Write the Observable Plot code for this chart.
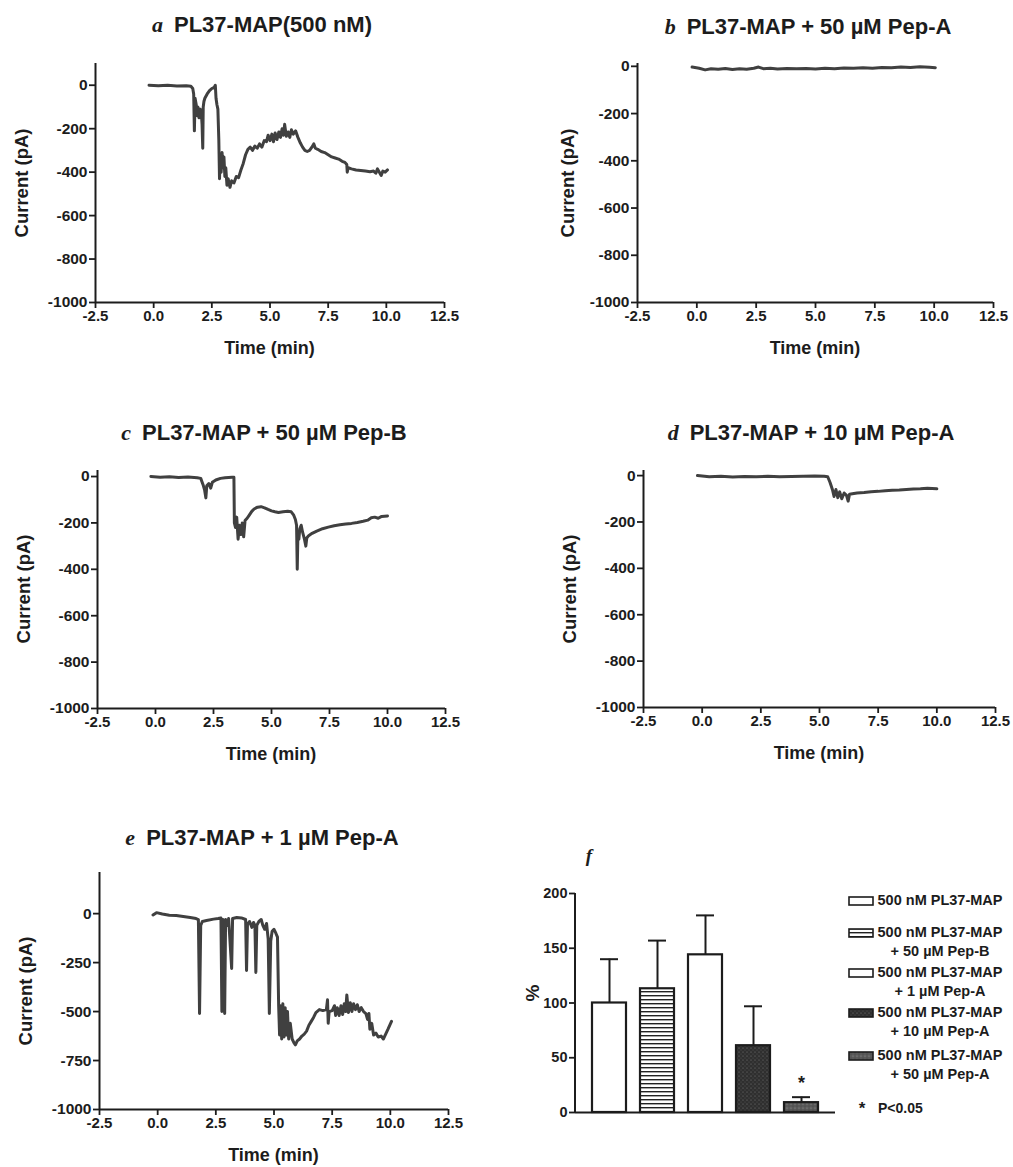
<!DOCTYPE html>
<html><head><meta charset="utf-8">
<script src="https://cdn.jsdelivr.net/npm/d3@7"></script>
<script src="https://cdn.jsdelivr.net/npm/@observablehq/plot@0.6"></script>
<style>
html,body{margin:0;padding:0;background:#fff;}
#root{position:relative;width:1013px;height:1167px;overflow:hidden;font-family:"Liberation Sans",Arial,Helvetica,sans-serif;color:#1c1c1c;}
#root > svg{position:absolute;overflow:visible;}
.t{position:absolute;white-space:nowrap;font-weight:bold;line-height:1;}
.c{transform:translate(-50%,-50%);}
.r{transform:translate(-50%,-50%) rotate(-90deg);}
.ltr{font-family:"Liberation Serif","Times New Roman",serif;font-style:italic;font-weight:bold;margin-right:11px;}
.leg{position:absolute;font-weight:bold;font-size:14.5px;line-height:19px;white-space:nowrap;}
.leg svg{position:absolute;left:0;top:5px;}
.leg .txt{position:absolute;left:26px;width:128px;text-align:center;}
</style></head><body><div id="root"></div>
<script>
// ---------------- data ----------------
const xTicks = [-2.5, 0, 2.5, 5, 7.5, 10, 12.5];
const yTicksStep200 = [-1000, -800, -600, -400, -200, 0];
const yTicksStep250 = [-1000, -750, -500, -250, 0];

// a: PL37-MAP (500 nM)  [time (min), current (pA)]
const traceA = [[-0.2,0],[0.2,-2],[0.6,0],[1.0,-3],[1.4,-2],[1.6,-5],[1.68,-15],[1.72,-40],[1.75,-210],[1.78,-60],[1.83,-90],[1.87,-140],[1.9,-100],[1.95,-150],[2.0,-110],[2.05,-130],[2.08,-180],[2.11,-290],[2.13,-100],[2.16,-75],[2.2,-60],[2.3,-40],[2.4,-25],[2.5,-15],[2.6,-10],[2.65,0],[2.68,-60],[2.72,-90],[2.76,-110],[2.8,-250],[2.83,-430],[2.86,-330],[2.9,-400],[2.94,-310],[2.98,-380],[3.02,-330],[3.06,-420],[3.1,-380],[3.15,-460],[3.2,-430],[3.28,-470],[3.35,-440],[3.45,-450],[3.55,-420],[3.65,-425],[3.75,-390],[3.85,-360],[3.95,-320],[4.05,-295],[4.15,-285],[4.25,-300],[4.35,-280],[4.45,-290],[4.55,-270],[4.65,-285],[4.75,-255],[4.85,-260],[4.92,-230],[5.0,-255],[5.08,-225],[5.15,-260],[5.22,-220],[5.3,-250],[5.38,-215],[5.45,-240],[5.52,-200],[5.58,-230],[5.63,-180],[5.7,-235],[5.78,-215],[5.85,-240],[5.92,-205],[6.0,-225],[6.1,-210],[6.2,-240],[6.3,-265],[6.4,-285],[6.5,-300],[6.6,-305],[6.7,-300],[6.8,-285],[6.88,-270],[6.95,-290],[7.05,-295],[7.2,-305],[7.35,-310],[7.5,-320],[7.65,-330],[7.8,-335],[7.95,-340],[8.1,-350],[8.22,-355],[8.3,-365],[8.32,-400],[8.36,-380],[8.5,-385],[8.7,-390],[8.9,-392],[9.1,-395],[9.3,-398],[9.45,-395],[9.55,-405],[9.62,-385],[9.7,-400],[9.78,-415],[9.85,-395],[9.95,-400],[10.05,-390]];

// b: PL37-MAP + 50 µM Pep-A
const traceB = [[-0.2,-3],[0.1,-8],[0.35,-15],[0.6,-10],[0.9,-12],[1.2,-9],[1.5,-13],[1.8,-10],[2.1,-12],[2.4,-8],[2.6,-3],[2.8,-10],[3.1,-8],[3.4,-11],[3.8,-9],[4.2,-10],[4.6,-9],[5.0,-11],[5.4,-8],[5.8,-10],[6.2,-7],[6.6,-8],[7.0,-6],[7.4,-8],[7.8,-5],[8.2,-6],[8.6,-3],[9.0,-5],[9.4,-2],[9.8,-4],[10.05,-6]];

// c: PL37-MAP + 50 µM Pep-B
const traceC = [[-0.2,0],[0.2,-3],[0.6,-1],[1.0,-4],[1.4,-2],[1.8,-5],[1.95,-8],[2.05,-35],[2.12,-60],[2.17,-92],[2.21,-40],[2.3,-30],[2.38,-50],[2.45,-25],[2.6,-15],[2.8,-8],[3.0,-5],[3.3,-3],[3.38,-3],[3.4,-200],[3.45,-220],[3.5,-175],[3.56,-270],[3.62,-210],[3.68,-250],[3.74,-200],[3.8,-260],[3.86,-190],[3.95,-180],[4.05,-165],[4.15,-150],[4.25,-140],[4.4,-132],[4.55,-130],[4.7,-135],[4.85,-142],[5.0,-148],[5.15,-152],[5.3,-155],[5.5,-152],[5.7,-150],[5.85,-152],[5.95,-165],[6.03,-185],[6.08,-210],[6.11,-400],[6.14,-240],[6.18,-270],[6.22,-225],[6.28,-210],[6.34,-240],[6.42,-270],[6.48,-300],[6.52,-265],[6.6,-255],[6.75,-245],[6.95,-235],[7.2,-225],[7.45,-218],[7.7,-212],[7.95,-208],[8.2,-205],[8.45,-202],[8.7,-198],[8.95,-193],[9.15,-188],[9.3,-178],[9.45,-175],[9.6,-180],[9.75,-172],[10.0,-170]];

// d: PL37-MAP + 10 µM Pep-A
const traceD = [[-0.2,0],[0.3,-5],[0.8,-3],[1.3,-6],[1.8,-4],[2.3,-5],[2.8,-3],[3.3,-5],[3.8,-4],[4.3,-3],[4.8,-2],[5.2,-3],[5.35,-5],[5.45,-30],[5.55,-60],[5.62,-90],[5.7,-60],[5.78,-95],[5.86,-70],[5.95,-100],[6.05,-75],[6.15,-85],[6.22,-110],[6.28,-80],[6.4,-78],[6.6,-75],[6.9,-73],[7.2,-70],[7.5,-68],[7.8,-65],[8.1,-63],[8.4,-62],[8.7,-60],[9.0,-58],[9.3,-57],[9.6,-55],[10.0,-57]];

// e: PL37-MAP + 1 µM Pep-A
const traceE = [[-0.2,-7],[-0.05,5],[0.2,-2],[0.5,-8],[0.8,-10],[1.1,-15],[1.4,-20],[1.65,-25],[1.75,-30],[1.8,-510],[1.85,-60],[1.92,-40],[2.1,-35],[2.4,-28],[2.6,-25],[2.72,-22],[2.76,-500],[2.8,-30],[2.88,-510],[2.92,-30],[3.0,-60],[3.05,-25],[3.18,-280],[3.22,-25],[3.4,-20],[3.6,-22],[3.78,-30],[3.82,-290],[3.86,-55],[3.95,-40],[4.05,-70],[4.12,-45],[4.18,-60],[4.22,-300],[4.26,-60],[4.35,-40],[4.45,-30],[4.52,-60],[4.6,-80],[4.68,-50],[4.75,-130],[4.8,-510],[4.86,-140],[4.92,-90],[5.0,-80],[5.08,-100],[5.15,-120],[5.2,-470],[5.24,-620],[5.28,-470],[5.33,-640],[5.38,-460],[5.43,-630],[5.48,-480],[5.53,-620],[5.58,-500],[5.63,-640],[5.7,-560],[5.78,-640],[5.86,-660],[5.92,-670],[6.0,-650],[6.1,-640],[6.2,-625],[6.3,-615],[6.4,-600],[6.5,-570],[6.6,-550],[6.7,-530],[6.8,-505],[6.95,-490],[7.1,-495],[7.25,-490],[7.3,-440],[7.33,-560],[7.37,-500],[7.5,-495],[7.6,-470],[7.65,-520],[7.72,-480],[7.8,-520],[7.88,-470],[7.95,-515],[8.02,-460],[8.08,-500],[8.13,-415],[8.2,-505],[8.28,-455],[8.35,-500],[8.42,-460],[8.5,-490],[8.58,-465],[8.66,-500],[8.75,-480],[8.85,-500],[8.95,-510],[9.02,-540],[9.08,-510],[9.12,-590],[9.2,-560],[9.28,-620],[9.38,-610],[9.48,-630],[9.6,-625],[9.7,-640],[9.8,-615],[9.9,-590],[10.05,-550]];

// f: summary bars (%)
const barCategories = ["500 nM PL37-MAP", "500 nM PL37-MAP + 50 µM Pep-B", "500 nM PL37-MAP + 1 µM Pep-A", "500 nM PL37-MAP + 10 µM Pep-A", "500 nM PL37-MAP + 50 µM Pep-A"];
const barMeans = [100, 113, 144, 61, 9];
const barErrors = [40, 44, 36, 36, 5];
const barSignificant = [false, false, false, false, true];
const barTicks = [0, 50, 100, 150, 200];
const legendLines = [["500 nM PL37-MAP"], ["500 nM PL37-MAP", "+ 50 µM Pep-B"], ["500 nM PL37-MAP", "+ 1 µM Pep-A"], ["500 nM PL37-MAP", "+ 10 µM Pep-A"], ["500 nM PL37-MAP", "+ 50 µM Pep-A"]];
const sigNote = "P<0.05";

// ---------------- drawing ----------------
const FONT = '"Liberation Sans", Arial, Helvetica, sans-serif';
const INK = "#1c1c1c";
const TRACE = "#404040";
const NS = "http://www.w3.org/2000/svg";
const root = document.getElementById("root");

function addText(html, x, y, cls, size) {
  const d = document.createElement("div");
  d.className = "t " + cls;
  d.style.left = x + "px"; d.style.top = y + "px"; d.style.fontSize = size + "px";
  d.innerHTML = html;
  root.appendChild(d);
  return d;
}

function tracePanel(p) {
  const mL = 72, mR = p.mR ?? 20, mT = 10, mB = 40;
  const fw = p.right - p.left, fh = p.bottom - p.top;
  const svg = Plot.plot({
    width: fw + mL + mR, height: fh + mT + mB,
    marginLeft: mL, marginRight: mR, marginTop: mT, marginBottom: mB,
    style: {fontFamily: FONT, fontSize: "15px", fontWeight: "bold", color: INK, background: "none", overflow: "visible"},
    x: {domain: [-2.5, 12.5]},
    y: {domain: p.yDomain},
    marks: [
      Plot.axisX({ticks: xTicks, tickFormat: d => d.toFixed(1), tickSize: 6, tickPadding: 2, label: null, fontSize: 15, fontWeight: "bold", strokeWidth: 1.8}),
      Plot.axisY({ticks: p.yTicks, tickFormat: d => String(d), tickSize: 6, tickPadding: 2, label: null, fontSize: 15.5, fontWeight: "bold", strokeWidth: 1.8}),
      Plot.ruleX([-2.5], {stroke: INK, strokeWidth: 2}),
      Plot.ruleY([p.yDomain[0]], {stroke: INK, strokeWidth: 2}),
      Plot.line(p.data, {x: d => d[0], y: d => d[1], stroke: TRACE, strokeWidth: 3, strokeLinejoin: "round", strokeLinecap: "round"})
    ]
  });
  svg.style.left = (p.left - mL) + "px";
  svg.style.top = (p.top - mT) + "px";
  root.appendChild(svg);
  addText(`<span class="ltr">${p.letter}</span>${p.title}`, p.titleX, p.titleY, "c", 22);
  addText("Current (pA)", p.left - (p.yLabOff ?? 73), (p.top + p.bottom) / 2, "r", 18.5);
  addText("Time (min)", (p.left + p.right) / 2, p.bottom + 46, "c", 18);
}

tracePanel({data: traceA, letter: "a", title: "PL37-MAP(500 nM)", left: 95, right: 444, top: 63, bottom: 302, yDomain: [-1000, 100], yTicks: yTicksStep200, titleX: 262, titleY: 25});
tracePanel({data: traceB, letter: "b", title: "PL37-MAP + 50 µM Pep-A", left: 637, right: 993, top: 63, bottom: 302, yDomain: [-1000, 12], yTicks: yTicksStep200, titleX: 808, titleY: 27, yLabOff: 69, mR: 18});
tracePanel({data: traceC, letter: "c", title: "PL37-MAP + 50 µM Pep-B", left: 97, right: 445, top: 470, bottom: 708, yDomain: [-1000, 26], yTicks: yTicksStep200, titleX: 264, titleY: 433});
tracePanel({data: traceD, letter: "d", title: "PL37-MAP + 10 µM Pep-A", left: 643, right: 995, top: 470, bottom: 707, yDomain: [-1000, 22], yTicks: yTicksStep200, titleX: 811, titleY: 433, mR: 15});
tracePanel({data: traceE, letter: "e", title: "PL37-MAP + 1 µM Pep-A", left: 99, right: 448, top: 872, bottom: 1109, yDomain: [-1000, 210], yTicks: yTicksStep250, titleX: 262, titleY: 838});

// pattern definitions (shared by bars and legend swatches)
function patternDefs(prefix) {
  const defs = document.createElementNS(NS, "defs");
  defs.innerHTML = `
    <pattern id="${prefix}stripe" patternUnits="userSpaceOnUse" width="8" height="4">
      <rect width="8" height="4" fill="#fff"/><rect width="8" height="1.4" fill="#222"/></pattern>
    <pattern id="${prefix}dark1" patternUnits="userSpaceOnUse" width="4" height="4">
      <rect width="4" height="4" fill="#2f2f2f"/><circle cx="1" cy="1" r="0.6" fill="#7a7a7a"/><circle cx="3" cy="3" r="0.5" fill="#5a5a5a"/></pattern>
    <pattern id="${prefix}dark2" patternUnits="userSpaceOnUse" width="4" height="4">
      <rect width="4" height="4" fill="#5a5a5a"/><circle cx="1" cy="1" r="0.6" fill="#999"/><circle cx="3" cy="3" r="0.5" fill="#3a3a3a"/></pattern>`;
  return defs;
}
const barFillKeys = ["white", "stripe", "white", "dark1", "dark2"];
const fillFor = (prefix, k) => k === "white" ? "#fff" : `url(#${prefix}${k})`;

const barData = barCategories.map((c, i) => ({cat: c, mean: barMeans[i], err: barErrors[i], sig: barSignificant[i], key: barFillKeys[i]}));

{
  const left = 575, right = 835, top = 893, bottom = 1112;
  const mL = 45, mR = 10, mT = 10, mB = 10;
  const svg = Plot.plot({
    width: right - left + mL + mR, height: bottom - top + mT + mB,
    marginLeft: mL, marginRight: mR, marginTop: mT, marginBottom: mB,
    style: {fontFamily: FONT, fontSize: "14px", fontWeight: "bold", color: INK, background: "none", overflow: "visible"},
    x: {type: "band", domain: barCategories, paddingInner: 0.3, paddingOuter: 0.33, axis: null},
    y: {domain: [0, 200]},
    color: {type: "identity"},
    marks: [
      () => patternDefs("f-"),
      Plot.axisY({ticks: barTicks, tickFormat: d => String(d), tickSize: 6, tickPadding: 2, label: null, fontSize: 14.5, fontWeight: "bold", strokeWidth: 1.8}),
      Plot.ruleX(barData, {x: "cat", y1: "mean", y2: d => d.mean + d.err, stroke: INK, strokeWidth: 2}),
      Plot.tickY(barData, {x: "cat", y: d => d.mean + d.err, stroke: INK, strokeWidth: 2, inset: 8}),
      Plot.barY(barData, {x: "cat", y: "mean", fill: d => fillFor("f-", d.key), stroke: INK, strokeWidth: 2.2}),
      Plot.text(barData.filter(d => d.sig), {x: "cat", y: d => d.mean + d.err, text: () => "*", dy: -14, fontSize: 18, fontWeight: "bold", fill: INK}),
      Plot.ruleY([0], {stroke: INK, strokeWidth: 2}),
      (index, scales, values, dims) => {
        const l = document.createElementNS(NS, "line");
        l.setAttribute("x1", dims.marginLeft); l.setAttribute("x2", dims.marginLeft);
        l.setAttribute("y1", dims.marginTop); l.setAttribute("y2", dims.height - dims.marginBottom);
        l.setAttribute("stroke", INK); l.setAttribute("stroke-width", 2);
        return l;
      }
    ]
  });
  svg.style.left = (left - mL) + "px";
  svg.style.top = (top - mT) + "px";
  root.appendChild(svg);
  addText("f", 589, 855, "c ltr", 19).style.margin = "0";
  addText("%", 532, 993, "r", 19);

  // legend
  const legY = [900, 932, 972, 1012, 1055];
  legendLines.forEach((lines, i) => {
    const item = document.createElement("div");
    item.className = "leg";
    item.style.left = "848px";
    item.style.top = (legY[i] - 9.5) + "px";
    const sw = document.createElementNS(NS, "svg");
    sw.setAttribute("width", 26); sw.setAttribute("height", 10);
    sw.appendChild(patternDefs("lg" + i + "-"));
    const r = document.createElementNS(NS, "rect");
    r.setAttribute("x", 1); r.setAttribute("y", 1); r.setAttribute("width", 24); r.setAttribute("height", 8);
    r.setAttribute("fill", fillFor("lg" + i + "-", barFillKeys[i])); r.setAttribute("stroke", INK); r.setAttribute("stroke-width", 1.6);
    sw.appendChild(r);
    item.appendChild(sw);
    const txt = document.createElement("div");
    txt.className = "txt";
    txt.style.left = "28px";
    txt.innerHTML = lines.join("<br>");
    item.appendChild(txt);
    root.appendChild(item);
  });
  addText("*", 862, 1108, "c", 17);
  addText(sigNote, 878, 1108, "", 14).style.transform = "translateY(-50%)";
}
</script></body></html>
